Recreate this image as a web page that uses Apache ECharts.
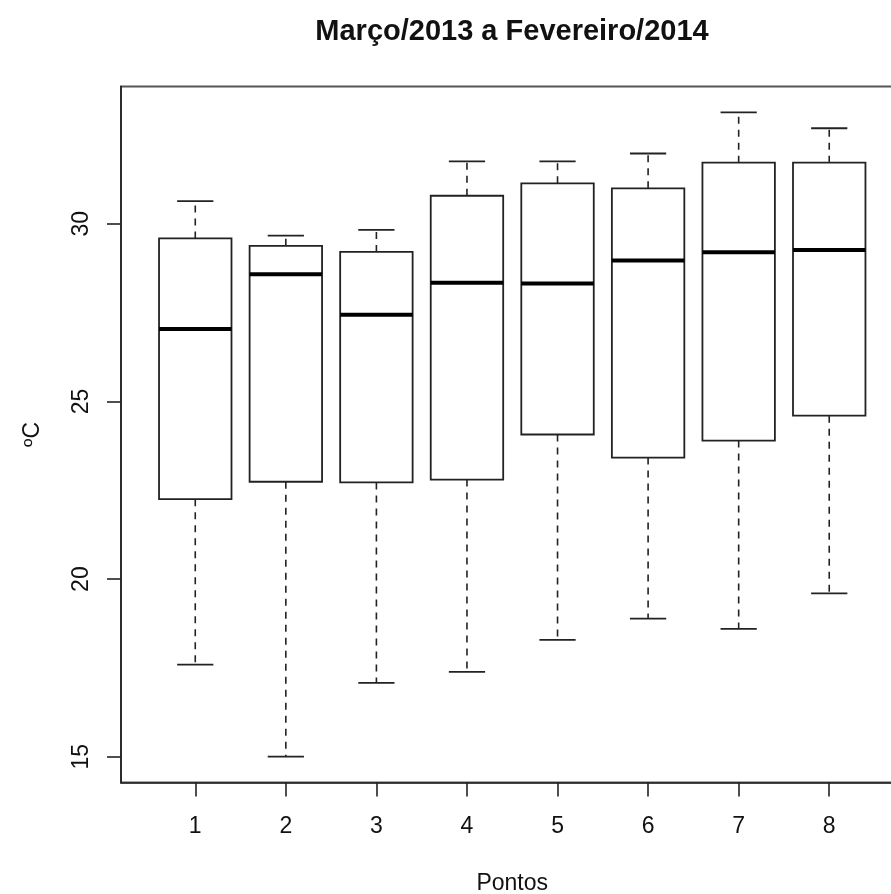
<!DOCTYPE html>
<html>
<head>
<meta charset="utf-8">
<title>Março/2013 a Fevereiro/2014</title>
<script src="https://cdn.jsdelivr.net/npm/echarts@6.0.0/dist/echarts.min.js"></script>
<style>
  html, body { margin: 0; padding: 0; background: #fff; }
  #chart { width: 891px; height: 894px; }
</style>
</head>
<body>
<div id="chart"></div>
<script>
// Temperature (ºC) distribution per sampling point, March 2013 – February 2014
const pontos  = ['1', '2', '3', '4', '5', '6', '7', '8'];
const minimo  = [17.59, 15.00, 17.08, 17.39, 18.29, 18.89, 18.60, 19.60];
const q1      = [22.25, 22.74, 22.72, 22.80, 24.07, 23.42, 23.90, 24.60];
const mediana = [27.04, 28.58, 27.44, 28.34, 28.32, 28.97, 29.20, 29.26];
const q3      = [29.59, 29.38, 29.21, 30.79, 31.14, 31.00, 31.72, 31.72];
const maximo  = [30.64, 29.67, 29.83, 31.76, 31.76, 31.98, 33.14, 32.69];
const yTicks  = [15, 20, 25, 30];
const xTicks  = pontos.map((p, i) => i + 1);

// R-style axis extent: data range widened by 4% on each side
const lo = Math.min(...minimo), hi = Math.max(...maximo);
const pad = (hi - lo) * 0.04;
const yMin = lo - pad, yMax = hi + pad;
const xMin = 0.5 - 0.32, xMax = pontos.length + 0.5 + 0.32;

const boxData = pontos.map((p, i) => [i + 1, minimo[i], q1[i], mediana[i], q3[i], maximo[i]]);

const FONT = 'Liberation Sans';
const INK = '#222';

function renderBox(params, api) {
  const x = api.value(0);
  const cLow = api.coord([x, api.value(1)]);
  const cQ1  = api.coord([x, api.value(2)]);
  const cMed = api.coord([x, api.value(3)]);
  const cQ3  = api.coord([x, api.value(4)]);
  const cHigh = api.coord([x, api.value(5)]);
  const cx = cMed[0];
  const halfBox = api.size([0.4, 0])[0];
  const halfCap = api.size([0.2, 0])[0];
  const dashed = { stroke: INK, lineWidth: 1.6, lineDash: [7, 6], fill: null };
  const solid = { stroke: INK, lineWidth: 1.8, fill: null };
  return {
    type: 'group',
    children: [
      { type: 'line', shape: { x1: cx, y1: cQ3[1], x2: cx, y2: cHigh[1] }, style: dashed },
      { type: 'line', shape: { x1: cx, y1: cQ1[1], x2: cx, y2: cLow[1] }, style: dashed },
      { type: 'line', shape: { x1: cx - halfCap, y1: cHigh[1], x2: cx + halfCap, y2: cHigh[1] }, style: solid },
      { type: 'line', shape: { x1: cx - halfCap, y1: cLow[1], x2: cx + halfCap, y2: cLow[1] }, style: solid },
      { type: 'rect', shape: { x: cx - halfBox, y: cQ3[1], width: halfBox * 2, height: cQ1[1] - cQ3[1] },
        style: { fill: '#fff', stroke: INK, lineWidth: 1.8 } },
      { type: 'line', shape: { x1: cx - halfBox, y1: cMed[1], x2: cx + halfBox, y2: cMed[1] },
        style: { stroke: '#000', lineWidth: 4, fill: null } }
    ]
  };
}

const chart = echarts.init(document.getElementById('chart'), null, { renderer: 'canvas' });
chart.setOption({
  backgroundColor: '#fff',
  animation: false,
  textStyle: { fontFamily: FONT },
  title: {
    text: 'Março/2013 a Fevereiro/2014',
    left: 512,
    top: 17,
    padding: 0,
    textAlign: 'center',
    textStyle: { fontFamily: FONT, fontWeight: 'bold', fontSize: 29, color: '#111' }
  },
  grid: {
    left: 121, top: 86.5, width: 782.5, height: 696,
    outerBoundsMode: 'none',
    show: true, borderColor: '#555', borderWidth: 2, backgroundColor: 'transparent',
    containLabel: false
  },
  xAxis: {
    type: 'value',
    min: xMin, max: xMax,
    name: 'Pontos',
    nameLocation: 'middle',
    nameGap: 90,
    nameTextStyle: { fontFamily: FONT, fontSize: 23, color: '#111' },
    splitLine: { show: false },
    axisLine: { show: true, lineStyle: { color: INK, width: 1.6 } },
    axisTick: { show: true, customValues: xTicks, length: 14, lineStyle: { color: INK, width: 1.6 } },
    axisLabel: {
      customValues: xTicks,
      formatter: v => pontos[v - 1],
      margin: 33,
      fontFamily: FONT, fontSize: 23, color: '#111'
    }
  },
  yAxis: {
    type: 'value',
    min: yMin, max: yMax,
    name: 'ºC',
    nameLocation: 'middle',
    nameGap: 77,
    nameTextStyle: { fontFamily: FONT, fontSize: 23, color: '#111' },
    splitLine: { show: false },
    axisLine: { show: true, lineStyle: { color: INK, width: 1.6 } },
    axisTick: { show: true, customValues: yTicks, length: 14, lineStyle: { color: INK, width: 1.6 } },
    axisLabel: {
      customValues: yTicks,
      rotate: 90,
      margin: 28,
      fontFamily: FONT, fontSize: 23, color: '#111'
    }
  },
  series: [{
    type: 'custom',
    name: 'Temperatura',
    renderItem: renderBox,
    encode: { x: 0, y: [1, 2, 3, 4, 5] },
    data: boxData,
    clip: false
  }]
});
</script>
</body>
</html>
